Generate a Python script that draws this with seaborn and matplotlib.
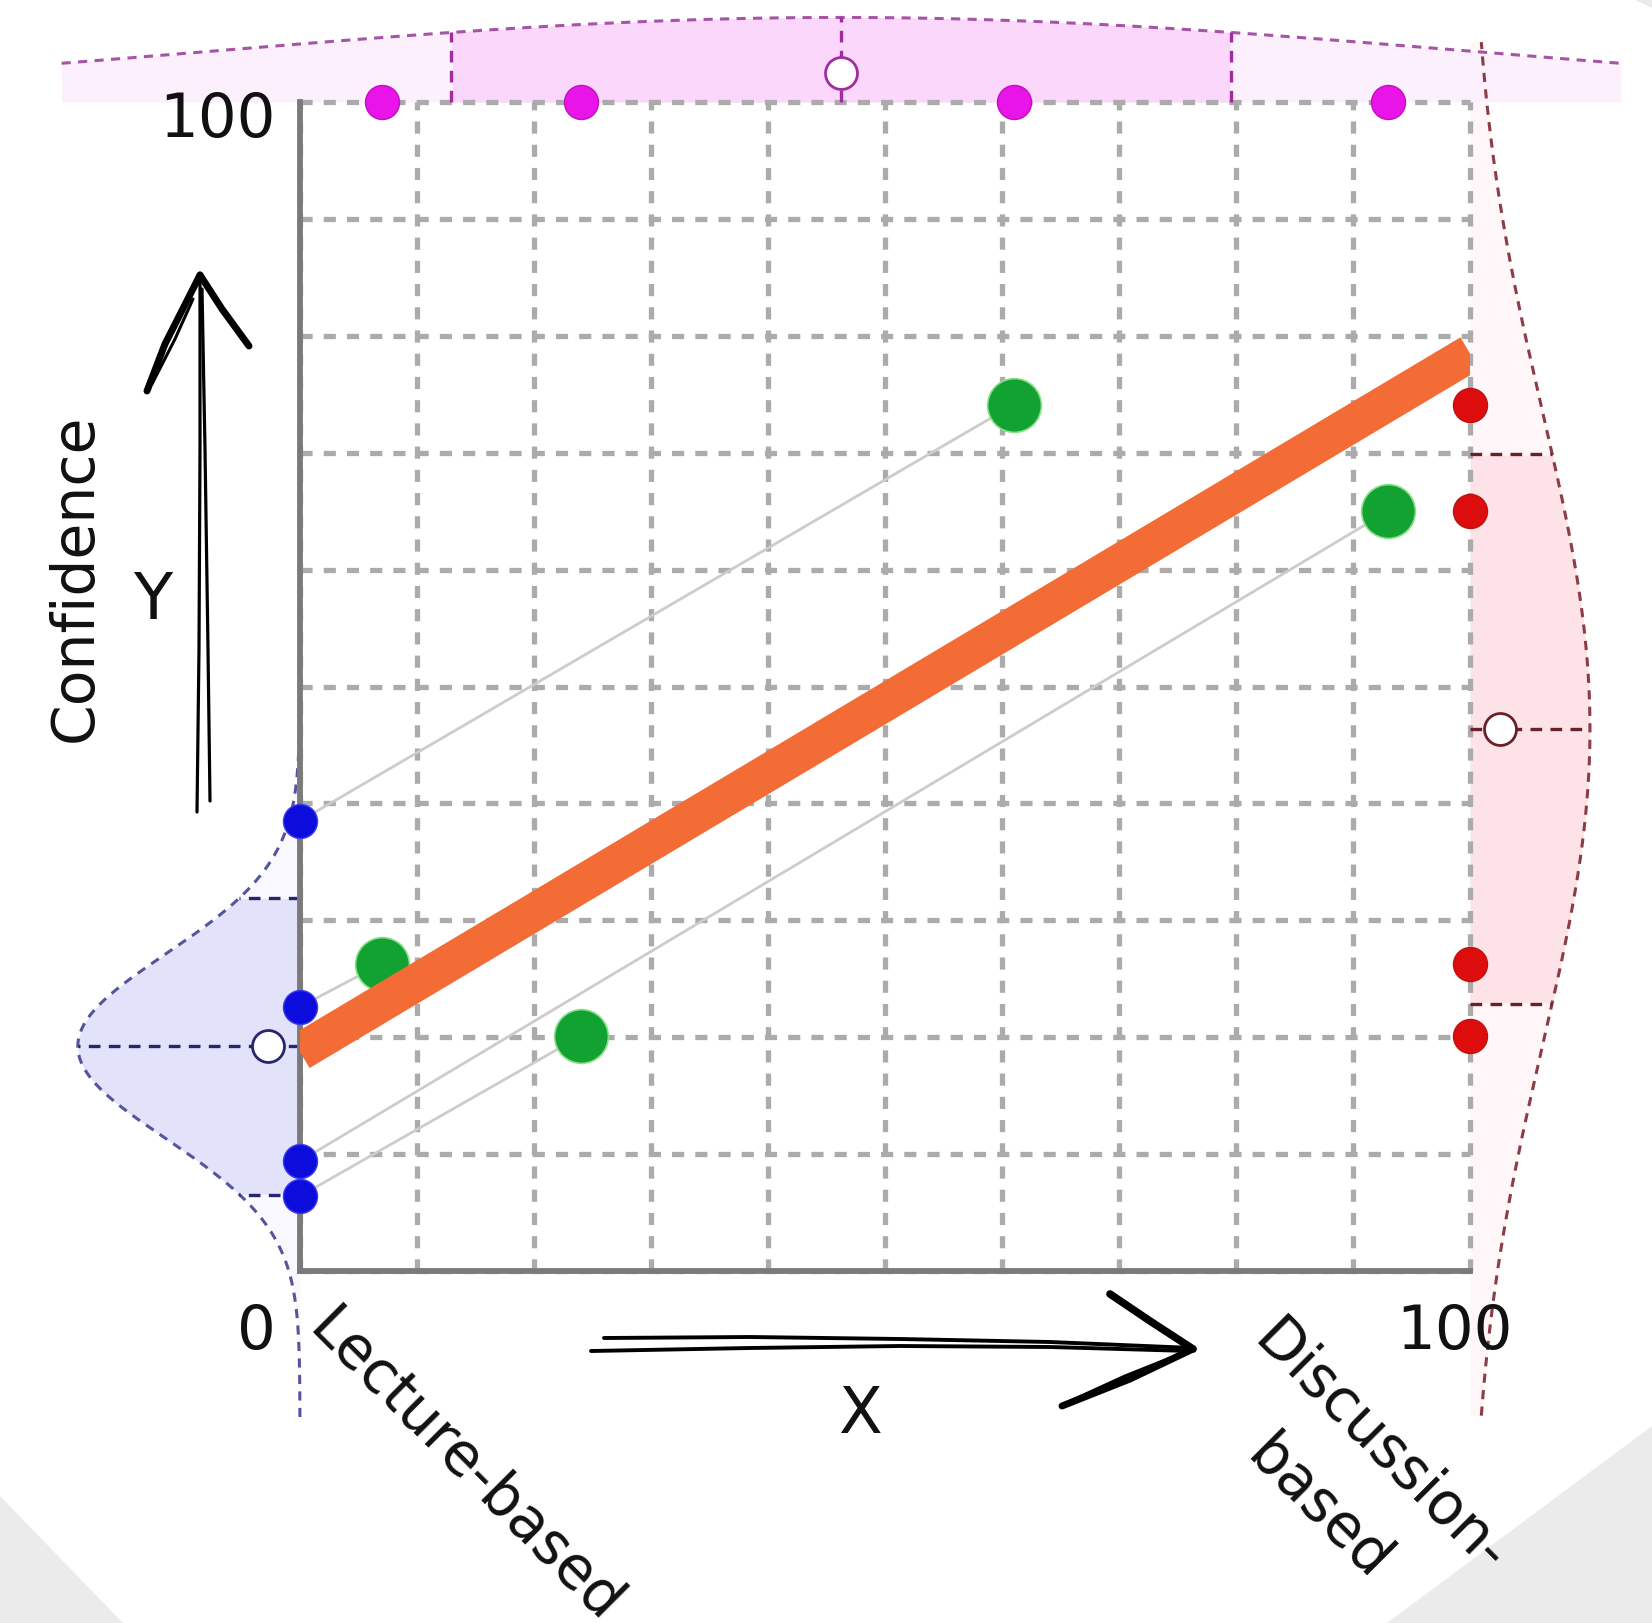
import numpy as np
import matplotlib
matplotlib.use("Agg")
import matplotlib.pyplot as plt
import seaborn as sns
import pandas as pd

# ---------------- data ----------------
x_values = [7.0, 24.0, 61.0, 93.0]        # teaching style (magenta dots on top edge)
y_values = [26.3, 20.1, 74.1, 65.0]       # confidence (red dots on right edge)
adjusted_y = [22.6, 6.4, 38.5, 9.4]       # confidence adjusted to x = 0 (blue dots)
axis_ticks = [0, 100]
tick_labels = ["0", "100"]
y_title = "Confidence"
x_letter = "X"
y_letter = "Y"
left_label = "Lecture-based"
right_label = "Discussion-\nbased"

df = pd.DataFrame({"x": x_values, "y": y_values, "adj": adjusted_y})

# ---------------- style ----------------
sns.set_theme(style="white")
plt.rcParams["font.family"] = ["DejaVu Sans"]

W, H = 1652, 1624
fig = plt.figure(figsize=(W / 100, H / 100), dpi=100)
fig.patch.set_facecolor("white")

# overlay (pixel coordinates) for decorations
ov = fig.add_axes([0, 0, 1, 1], zorder=0)
ov.set_xlim(0, W)
ov.set_ylim(H, 0)
ov.axis("off")

L, R, T, B = 300, 1470, 103, 1272
ax = fig.add_axes([L / W, 1 - B / H, (R - L) / W, (B - T) / H], zorder=1)
ax.set_facecolor("none")
ax.set_xlim(0, 100)
ax.set_ylim(0, 100)

# grid
grid_ticks = np.arange(0, 101, 10)
ax.set_xticks(grid_ticks)
ax.set_yticks(grid_ticks)
ax.tick_params(length=0, labelbottom=False, labelleft=False)
ax.grid(True, color="#ababab", lw=3.8, linestyle=(0, (2.3, 2.1)))
ax.set_axisbelow(True)
for gl in ax.get_xgridlines() + ax.get_ygridlines():
    gl.set_clip_on(False)
for s in ["top", "right"]:
    ax.spines[s].set_visible(False)
for s in ["left", "bottom"]:
    ax.spines[s].set_color("#7a7a7a")
    ax.spines[s].set_linewidth(4.2)

# ---------------- distributions ----------------
DENS_AREA = 604.0


def draw_dist(vals, along, base, sign, width_factor, span, box_col, faint_col,
              line_col, med_col, circ_off):
    vals = np.asarray(vals, float)
    mu = vals.mean()
    sd = vals.std()
    t = np.linspace(mu - span * sd, mu + span * sd, 400)
    peak = DENS_AREA / (sd * np.sqrt(2 * np.pi))
    h = peak * np.exp(-0.5 * ((t - mu) / (sd * width_factor)) ** 2)
    c = base + sign * h
    inbox = (t >= mu - sd) & (t <= mu + sd)
    hb = peak * np.exp(-0.5 * (1 / width_factor) ** 2)
    if along == "y":
        ax.fill_betweenx(t, base, c, color=faint_col, lw=0, zorder=0.2, clip_on=False)
        ax.fill_betweenx(t[inbox], base, c[inbox], color=box_col, lw=0, zorder=0.3, clip_on=False)
        ax.plot(c, t, color=line_col, lw=2.2, ls=(0, (3, 2.4)), zorder=0.6, clip_on=False)
        for e in (mu - sd, mu + sd):
            ax.plot([base, base + sign * hb], [e, e], color=med_col, lw=2.4,
                    ls=(0, (3.5, 2.5)), zorder=0.6, clip_on=False)
        ax.plot([base, base + sign * peak], [mu, mu], color=med_col, lw=2.4,
                ls=(0, (3.5, 2.5)), zorder=0.6, clip_on=False)
        ax.plot([base + sign * circ_off], [mu], marker="o", ms=23, mfc="white",
                mec=med_col, mew=2.0, zorder=3.5, clip_on=False)
    else:
        ax.fill_between(t, base, c, color=faint_col, lw=0, zorder=0.2, clip_on=False)
        ax.fill_between(t[inbox], base, c[inbox], color=box_col, lw=0, zorder=0.3, clip_on=False)
        ax.plot(t, c, color=line_col, lw=2.2, ls=(0, (3, 2.4)), zorder=0.6, clip_on=False)
        for e in (mu - sd, mu + sd):
            ax.plot([e, e], [base, base + sign * hb], color=med_col, lw=2.4,
                    ls=(0, (3.5, 2.5)), zorder=0.6, clip_on=False)
        ax.plot([mu, mu], [base, base + sign * peak], color=med_col, lw=2.4,
                ls=(0, (3.5, 2.5)), zorder=0.6, clip_on=False)
        ax.plot([mu], [base + sign * circ_off], marker="o", ms=23, mfc="white",
                mec=med_col, mew=2.0, zorder=3.5, clip_on=False)


draw_dist(df["adj"], "y", 0, -1, 0.62, 2.5, "#e2e2fa", "#f8f8fe", "#55559e", "#26266e", 2.7)
draw_dist(df["y"], "y", 100, 1, 1.15, 2.5, "#fde3e7", "#fef6f8", "#8c3c44", "#6a2026", 2.6)
draw_dist(df["x"], "x", 100, 1, 1.6, 2.0, "#fbd7fb", "#fdf0fd", "#a655a6", "#a02ca0", 2.5)

# ---------------- connectors, regression, points ----------------
for xi, yi, ai in zip(df["x"], df["y"], df["adj"]):
    ax.plot([0, xi], [ai, yi], color="#cccccc", lw=2.0, zorder=1.5)

sns.regplot(data=df, x="x", y="y", ax=ax, scatter=False, ci=None, truncate=False,
            color="#f36b35", line_kws=dict(lw=27, solid_capstyle="butt", zorder=4))

sns.scatterplot(data=df, x="x", y="y", ax=ax, s=1500, color="#12a232",
                edgecolor="#8ae08a", linewidth=1.2, zorder=3, legend=False)
sns.scatterplot(x=np.zeros(len(df)), y=df["adj"], ax=ax, s=600, color="#0c0cdc",
                edgecolor="#3a3aee", linewidth=1.0, zorder=5, clip_on=False, legend=False)
sns.scatterplot(x=np.full(len(df), 100.0), y=df["y"], ax=ax, s=600, color="#de0d0d",
                edgecolor="#c01010", linewidth=1.0, zorder=5, clip_on=False, legend=False)
sns.scatterplot(x=df["x"], y=np.full(len(df), 100.0), ax=ax, s=600, color="#e814e8",
                edgecolor="#c010c0", linewidth=1.0, zorder=5, clip_on=False, legend=False)

ax.set_xlim(0, 100)
ax.set_ylim(0, 100)
ax.set_xlabel("")
ax.set_ylabel("")

# ---------------- texts ----------------
NUM = 44
ax.text(-2.05, 98.5, tick_labels[1], ha="right", va="center", fontsize=NUM,
        color="#111111", clip_on=False)
ax.text(-2.05, -5.2, tick_labels[0], ha="right", va="center", fontsize=NUM,
        color="#111111", clip_on=False)
ax.text(98.7, -5.2, tick_labels[1], ha="center", va="center", fontsize=NUM,
        color="#111111", clip_on=False)
ax.text(47.9, -12.2, x_letter, ha="center", va="center", fontsize=NUM + 2, color="#111111",
        clip_on=False)
ax.text(-12.6, 57.4, y_letter, ha="center", va="center", fontsize=NUM + 2, color="#111111",
        clip_on=False)
ax.text(-19.2, 59.4, y_title, ha="center", va="center", rotation=90, fontsize=42,
        color="#111111", clip_on=False)
ax.text(0.5, -5.1, left_label, ha="left", va="baseline", rotation=-45,
        rotation_mode="anchor", fontsize=42, color="#111111", clip_on=False)
ax.text(84.0, -3.3, right_label, ha="left", va="top", rotation=-45,
        rotation_mode="anchor", multialignment="center", linespacing=1.65,
        fontsize=42, color="#111111", clip_on=False)

# ---------------- decorations (pixel coords) ----------------
gray = "#ebebeb"
ov.fill([0, 123, 0], [1497, H, H], color=gray, lw=0)
ov.fill([W, 1387, W], [1427, H, H], color=gray, lw=0)
ov.fill([1633, W, W], [0, 0, 9], color=gray, lw=0)


def stroke(pts, lw):
    p = np.array(pts, float)
    ov.plot(p[:, 0], p[:, 1], color="black", lw=lw, solid_capstyle="round",
            solid_joinstyle="round")


# Y arrow
stroke([(197, 813), (199, 650), (200, 450), (200, 276)], 2.3)
stroke([(210, 802), (208, 650), (205, 450), (202, 290)], 2.3)
stroke([(147, 392), (165, 345), (200, 276)], 5.0)
stroke([(152, 385), (175, 340), (193, 300)], 2.2)
stroke([(200, 276), (222, 310), (249, 347)], 5.0)
# X arrow
stroke([(604, 1339), (750, 1338), (900, 1340), (1050, 1343), (1193, 1349)], 2.8)
stroke([(591, 1352), (750, 1349), (900, 1347), (1050, 1348), (1190, 1352)], 2.8)
stroke([(1110, 1295), (1150, 1322), (1193, 1350)], 5.5)
stroke([(1062, 1407), (1130, 1380), (1193, 1350)], 5.0)
stroke([(1066, 1404), (1125, 1377), (1180, 1355)], 2.2)

fig.savefig("out.png", dpi=100, facecolor="white")
